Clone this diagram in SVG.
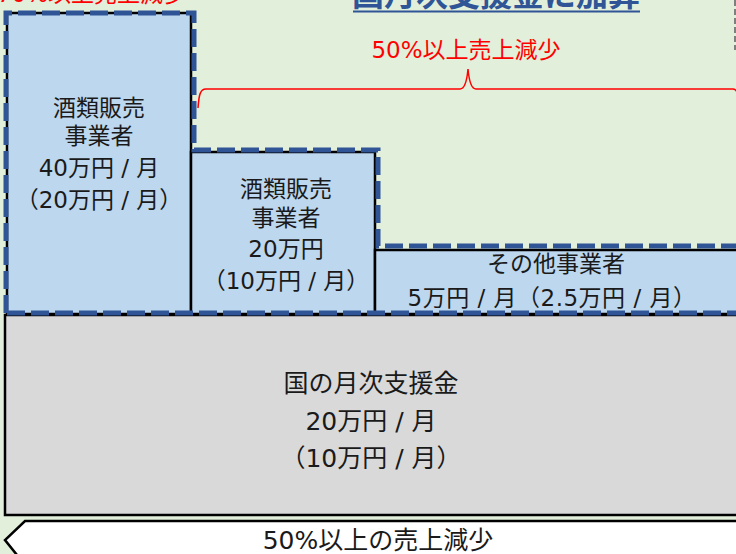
<svg xmlns="http://www.w3.org/2000/svg" width="736" height="554" viewBox="0 0 736 554">
<style>
.t{font-family:"DejaVu Sans","Noto Sans CJK JP",sans-serif;fill:#1a1a1a;text-anchor:middle}
.box{fill:#BDD7EE;stroke:#000;stroke-width:2.5}
.red{font-family:"DejaVu Sans","Noto Sans CJK JP",sans-serif;fill:#FF0000;text-anchor:middle;font-size:23px}
</style>
<rect x="0" y="0" width="736" height="554" fill="#E2EFDA"/>
<line x1="735" y1="0" x2="735" y2="50" stroke="#7F7F7F" stroke-width="2" stroke-dasharray="6 3"/>
<g id="title">
<text x="186" y="2" class="red" style="text-anchor:end">70%以上売上減少</text>
<text x="496" y="6" style="font-family:'Noto Sans CJK JP',sans-serif;font-weight:bold;font-size:32px;fill:#2F5597;text-anchor:middle">国月次支援金に加算</text>
<line x1="353" y1="11.5" x2="640" y2="11.5" stroke="#2F5597" stroke-width="2"/>
</g>
<g id="brace">
<path d="M198,108 C199,95 200,89 206,89 L460,89 C465,89 467,80 468,69 C469,80 471,89 476,89 L733,89 C735,89 736,90 737,92" fill="none" stroke="#FF0000" stroke-width="1.5"/>
<text x="466" y="58" class="red">50%以上売上減少</text>
</g>
<g id="gray-box">
<rect x="5" y="315" width="740" height="200" fill="#D9D9D9" stroke="#000" stroke-width="2.5"/>
<text x="371" y="392" class="t" font-size="25">国の月次支援金</text>
<text x="371" y="430" class="t" font-size="25">20万円 / 月</text>
<text x="371" y="467" class="t" font-size="25">（10万円 / 月）</text>
</g>
<g id="box1">
<rect x="7" y="13" width="184" height="301" class="box"/>
<text x="99" y="116" class="t" font-size="23">酒類販売</text>
<text x="99" y="144" class="t" font-size="23">事業者</text>
<text x="99" y="176" class="t" font-size="23">40万円 / 月</text>
<text x="99" y="208" class="t" font-size="23">（20万円 / 月）</text>
</g>
<g id="box2">
<rect x="191" y="152" width="184" height="162" class="box"/>
<text x="286" y="197" class="t" font-size="23">酒類販売</text>
<text x="286" y="226" class="t" font-size="23">事業者</text>
<text x="286" y="257" class="t" font-size="23">20万円</text>
<text x="286" y="289" class="t" font-size="23">（10万円 / 月）</text>
</g>
<g id="box3">
<rect x="375" y="250" width="370" height="64" class="box"/>
<text x="556" y="272" class="t" font-size="23">その他事業者</text>
<text x="552" y="306" class="t" font-size="23" letter-spacing="0.5">5万円 / 月（2.5万円 / 月）</text>
</g>
<g id="connectors">
<path d="M6,313 L6,13 L194,13 L194,150 L378,150 L378,246 L745,246 M745,313 L6,313" fill="none" stroke="#2F5597" stroke-width="5" stroke-dasharray="18 6"/>
</g>
<g id="arrow">
<polygon points="25,521 745,521 745,565 25,565 5,540" fill="#FFFFFF" stroke="#000" stroke-width="2.5"/>
<text x="378" y="549" class="t" font-size="25">50%以上の売上減少</text>
</g>
</svg>
